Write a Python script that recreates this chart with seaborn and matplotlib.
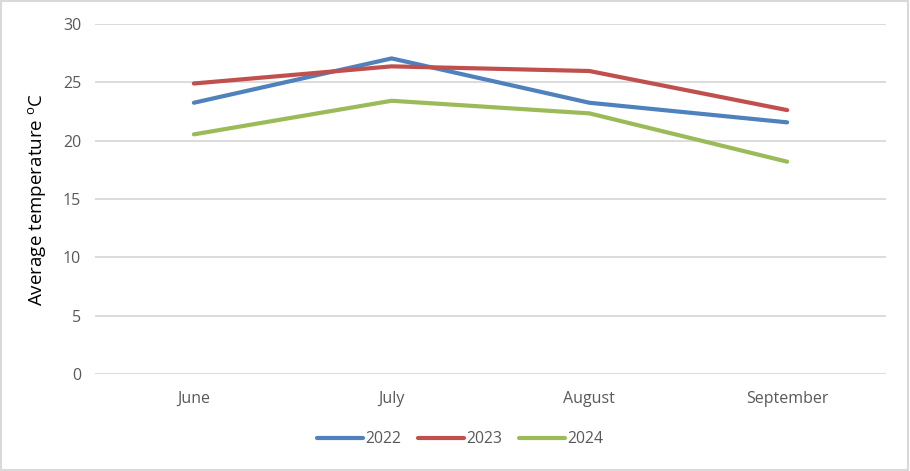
import matplotlib
matplotlib.use("Agg")
import matplotlib.pyplot as plt
import seaborn as sns
import pandas as pd
from matplotlib.patches import Rectangle

months = ["June", "July", "August", "September"]
temps_2022 = [23.25, 27.05, 23.25, 21.57]
temps_2023 = [24.9, 26.37, 25.97, 22.62]
temps_2024 = [20.54, 23.42, 22.34, 18.2]
years = ["2022", "2023", "2024"]
colors = ["#4F81BD", "#C0504D", "#9BBB59"]

rows = []
for yr, vals in zip(years, [temps_2022, temps_2023, temps_2024]):
    for i, (m, v) in enumerate(zip(months, vals)):
        rows.append({"pos": i, "month": m, "year": yr, "temp": v})
df = pd.DataFrame(rows)

sns.set_theme(style="white")
plt.rcParams['font.family'] = ['Open Sans', 'DejaVu Sans']

fig = plt.figure(figsize=(9.1, 4.71), dpi=100)
ax = fig.add_axes([95/910, 1-374/471, (886-95)/910, (374-24)/471])

sns.lineplot(data=df, x="pos", y="temp", hue="year", palette=colors,
             linewidth=3.0, ax=ax, legend=True, solid_capstyle="round")

ax.set_xlim(-0.5, 3.5)
ax.set_ylim(0, 30)
ax.set_yticks(range(0, 31, 5))
ax.set_xticks(range(4))
ax.set_xticklabels(months)
ax.yaxis.grid(True, color="#D9D9D9", linewidth=1.3)
ax.xaxis.grid(False)
for s in ax.spines.values():
    s.set_visible(False)
ax.tick_params(axis="both", length=0, labelsize=11.5, labelcolor="#595959")
ax.tick_params(axis="x", pad=12)
ax.tick_params(axis="y", pad=10)
ax.set_xlabel("")
ax.set_ylabel("Average temperature $^\\mathregular{o}$C", fontsize=13.5, color="black", labelpad=10)

handles, labels = ax.get_legend_handles_labels()
leg = ax.legend(handles, labels, loc="center", bbox_to_anchor=(460/910, 1-439/471),
                bbox_transform=fig.transFigure,
                ncol=3, frameon=False, fontsize=11.3, handlelength=2.9, columnspacing=1.1,
                handletextpad=0.15)
for t in leg.get_texts():
    t.set_color("#595959")
for l in leg.get_lines():
    l.set_linewidth(3.0)

fig.patches.append(Rectangle((0.001, 0.002), 0.997, 0.995, transform=fig.transFigure,
                             fill=False, edgecolor="#D9D9D9", linewidth=1.5))

fig.savefig("out.png", dpi=100)
